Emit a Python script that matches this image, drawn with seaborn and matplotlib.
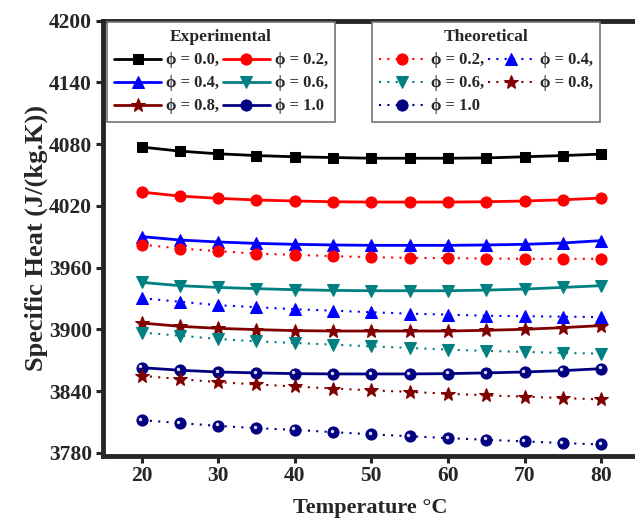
import numpy as np
import pandas as pd
import matplotlib
matplotlib.use("Agg")
import matplotlib.pyplot as plt
import matplotlib.transforms as mtransforms
import seaborn as sns

# temperature points (deg C)
temp = [20, 25, 30, 35, 40, 45, 50, 55, 60, 65, 70, 75, 80]

# experimental specific heat, J/(kg.K)
exp_00 = [4077.2, 4073.2, 4070.6, 4068.9, 4067.7, 4067.0, 4066.3, 4066.3, 4066.3, 4066.6, 4067.7, 4068.9, 4070.3]
exp_02 = [4033.4, 4029.5, 4027.3, 4025.7, 4024.7, 4024.0, 4023.7, 4023.7, 4023.7, 4024.0, 4024.7, 4025.9, 4027.6]
exp_04 = [3990.1, 3986.8, 3984.9, 3983.5, 3982.6, 3982.0, 3981.6, 3981.6, 3981.6, 3982.0, 3982.6, 3983.9, 3986.2]
exp_06 = [3945.6, 3942.4, 3940.7, 3939.5, 3938.5, 3937.8, 3937.5, 3937.5, 3937.5, 3938.1, 3939.1, 3940.7, 3942.4]
exp_08 = [3906.1, 3902.9, 3900.9, 3899.7, 3898.7, 3898.3, 3898.3, 3898.3, 3898.3, 3899.0, 3900.0, 3901.6, 3903.6]
exp_10 = [3862.7, 3860.2, 3858.5, 3857.6, 3856.9, 3856.6, 3856.6, 3856.6, 3856.9, 3857.6, 3858.5, 3859.8, 3861.7]

# theoretical specific heat
th_02 = [3982.4, 3978.5, 3976.0, 3973.6, 3972.4, 3971.1, 3970.1, 3969.4, 3969.2, 3968.8, 3968.5, 3968.5, 3968.5]
th_04 = [3930.2, 3926.8, 3923.4, 3921.5, 3919.5, 3918.1, 3916.6, 3915.2, 3914.2, 3913.2, 3912.7, 3912.3, 3911.8]
th_06 = [3896.8, 3893.8, 3890.6, 3888.3, 3886.7, 3885.1, 3883.4, 3881.9, 3880.2, 3879.0, 3878.0, 3877.0, 3876.3]
th_08 = [3854.8, 3851.6, 3848.6, 3846.4, 3844.4, 3842.4, 3840.7, 3839.1, 3837.4, 3835.8, 3834.5, 3833.1, 3831.8]
th_10 = [3811.7, 3808.8, 3806.1, 3803.9, 3802.2, 3800.0, 3797.9, 3796.0, 3794.2, 3792.6, 3791.0, 3789.4, 3788.0]

exp_labels = ["ϕ = 0.0,", "ϕ = 0.2,", "ϕ = 0.4,", "ϕ = 0.6,", "ϕ = 0.8,", "ϕ = 1.0"]
th_labels = ["ϕ = 0.2,", "ϕ = 0.4,", "ϕ = 0.6,", "ϕ = 0.8,", "ϕ = 1.0"]

sns.set_style("ticks")
plt.rcParams['font.family'] = ['Liberation Serif', 'DejaVu Serif']
plt.rcParams['font.weight'] = 'bold'

fig = plt.figure(figsize=(6.35, 5.24), dpi=100)
# right spine sits just outside the picture, as in the original
ax = fig.add_axes([102.5/635, 1 - 455.5/524, 535/635, 435/524])

exp_series = [exp_00, exp_02, exp_04, exp_06, exp_08, exp_10]
exp_colors = ["black", "#ff0000", "#0000ff", "#008080", "#800000", "#000080"]
exp_markers = ["s", "o", "^", "v", "*", "o"]
exp_ms = [7, 8, 8, 8, 10, 8]

th_series = [th_02, th_04, th_06, th_08, th_10]
th_colors = exp_colors[1:]
th_markers = exp_markers[1:]
th_ms = exp_ms[1:]

# small highlight on the navy "ball" markers
shine = mtransforms.offset_copy(ax.transData, fig=fig, x=-1.0, y=1.0, units="points")

exp_handles = []
for y, c, m, s, lab in zip(exp_series, exp_colors, exp_markers, exp_ms, exp_labels):
    df = pd.DataFrame({"T": temp, "cp": y})
    sns.lineplot(data=df, x="T", y="cp", ax=ax, color=c, marker=m, markersize=s,
                 markeredgecolor=c, linewidth=2, linestyle="-", label=lab)
    exp_handles.append(ax.lines[-1])

th_handles = []
for y, c, m, s, lab in zip(th_series, th_colors, th_markers, th_ms, th_labels):
    df = pd.DataFrame({"T": temp, "cp": y})
    sns.lineplot(data=df, x="T", y="cp", ax=ax, color=c, marker=m, markersize=s,
                 markeredgecolor=c, linewidth=1.5, linestyle=(0, (1, 3)), label=lab)
    th_handles.append(ax.lines[-1])

for y in [exp_10, th_10]:
    df = pd.DataFrame({"T": temp, "cp": y})
    sns.lineplot(data=df, x="T", y="cp", ax=ax, color="white", marker="o", markersize=2.5,
                 markeredgewidth=0, linestyle="none", alpha=0.85, transform=shine, legend=False)

ax.set_xlim(14.9, 84.75)
ax.set_ylim(3777.3, 4200.2)
ax.set_xticks([20, 30, 40, 50, 60, 70, 80])
ax.set_yticks([3780, 3840, 3900, 3960, 4020, 4080, 4140, 4200])
ax.tick_params(width=2.2, length=5, labelsize=15.5, direction="out", pad=2.5)
for lab in ax.get_xticklabels() + ax.get_yticklabels():
    lab.set_fontweight("bold")
for sp in ax.spines.values():
    sp.set_linewidth(3.5)
    sp.set_visible(True)

ax.set_xlabel("Temperature °C", fontsize=16, fontweight="bold", labelpad=9)
ax.set_ylabel("Specific Heat (J/(kg.K))", fontsize=19, fontweight="bold", labelpad=0.5)

if ax.get_legend():
    ax.get_legend().remove()

leg_kw = dict(ncol=2, loc="upper left", borderaxespad=0, fancybox=False, edgecolor="0.45",
              framealpha=1, prop={"weight": "bold", "size": 12}, handlelength=2.8,
              handletextpad=0.3, columnspacing=0.25, labelspacing=0.42, borderpad=0.45)

order1 = [0, 2, 4, 1, 3, 5]
leg1 = ax.legend([exp_handles[i] for i in order1], [exp_labels[i] for i in order1],
                 bbox_to_anchor=(0.008, 0.9966), title="Experimental", **leg_kw)
leg1.get_title().set_fontweight("bold")
leg1.get_title().set_fontsize(12.5)
leg1.get_frame().set_linewidth(1.2)
ax.add_artist(leg1)

order2 = [0, 2, 4, 1, 3]
leg2 = ax.legend([th_handles[i] for i in order2], [th_labels[i] for i in order2],
                 bbox_to_anchor=(0.503, 0.9966), title="Theoretical", **leg_kw)
leg2.get_title().set_fontweight("bold")
leg2.get_title().set_fontsize(12.5)
leg2.get_frame().set_linewidth(1.2)

fig.savefig("out.png", dpi=100)
